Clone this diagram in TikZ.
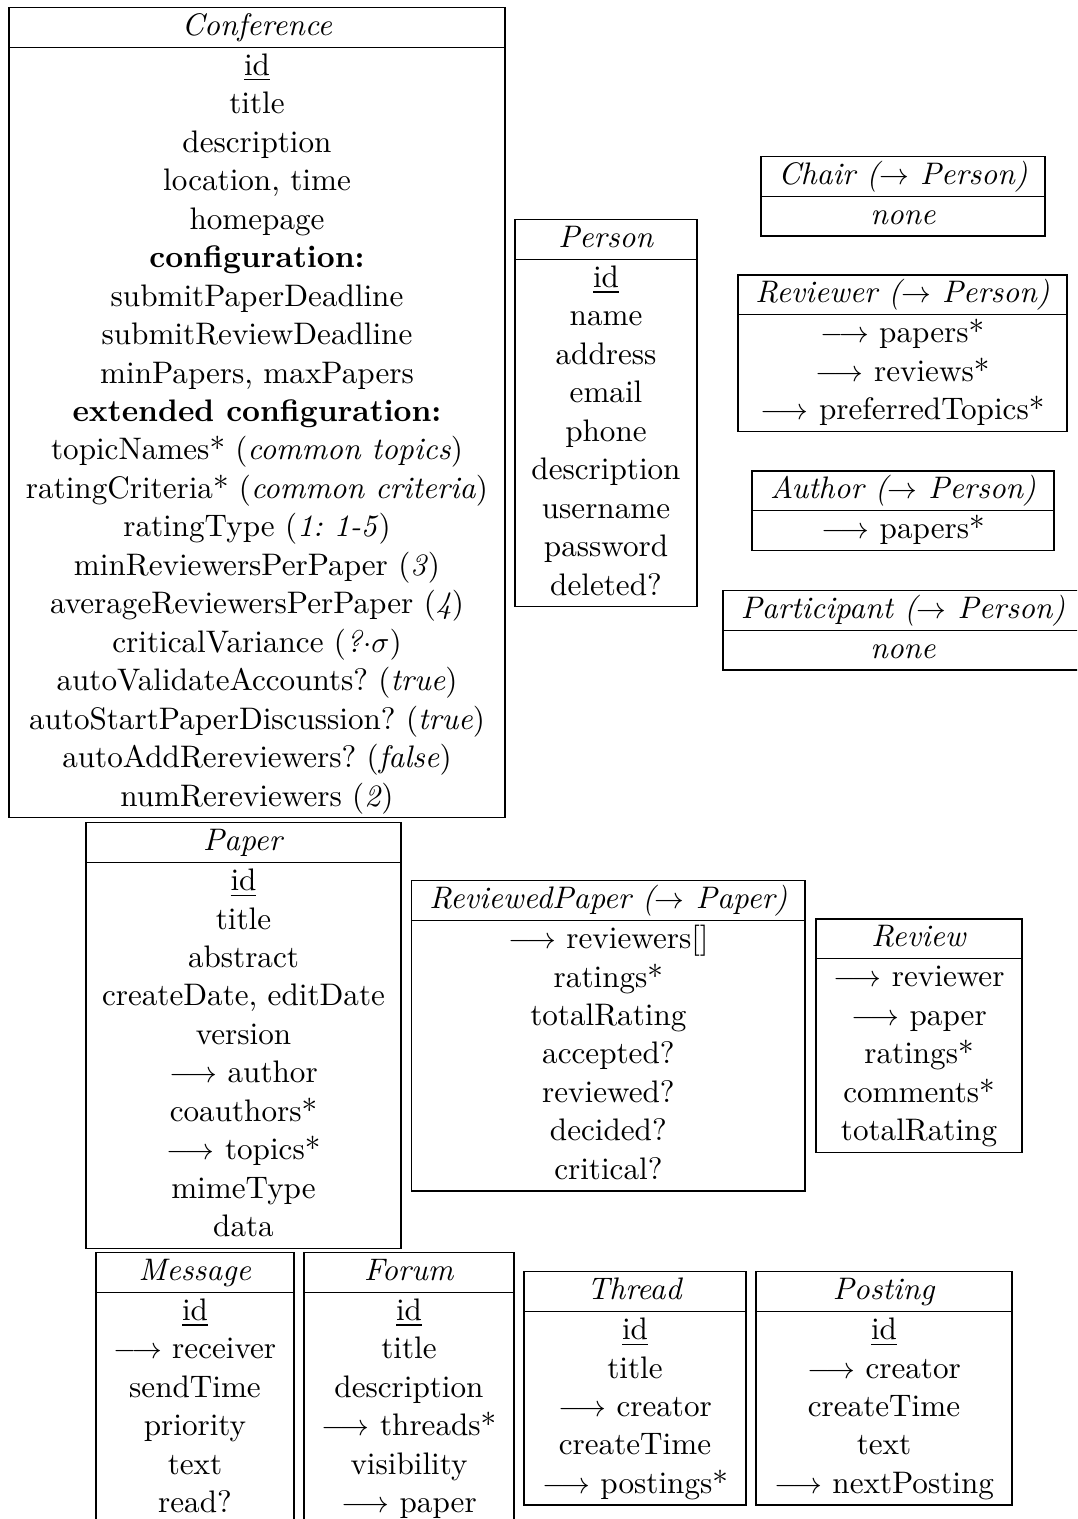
\documentclass[tikz,border=0pt]{standalone}
\usepackage{amsmath}
\frenchspacing
\tikzset{
  tabline/.style={draw=black, line width=0.45pt},
  txt/.style={anchor=base, inner sep=0pt, outer sep=0pt, font=\fontsize{10.45}{12.5}\selectfont\frenchspacing},
}
% #1 name, #2 x1, #3 x2, #4 ytop, #5 header, #6 number of rows, #7 rows
\newcommand\umltab[7]{%
  \pgfmathsetmacro\tabX{(#2+#3)/2}%
  \pgfmathsetmacro\tabY{#4+39.7}%
  \pgfmathsetmacro\tabB{#4+39.7+#6*38.46+1.2}%
  \draw[tabline] (#2,#4) rectangle (#3,\tabB);
  \draw[tabline] (#2,\tabY) -- (#3,\tabY);
  \node[txt] (#1) at (\tabX,{#4+27.9}) {\textit{#5}};
  \foreach \rw [count=\i] in {#7} {
    \node[txt] (#1-\i) at (\tabX,{\tabY+28.2+(\i-1)*38.46}) {\rw};
  }
}
\begin{document}
\begin{tikzpicture}[x=0.3356pt, y=-0.3356pt]
\useasboundingbox (0,0) rectangle (1077,1519);
\clip (0,0) rectangle (1077,1519);

\umltab{conf}{9}{505}{7.5}{Conference}{20}{%
  \underline{id}, title, description, {location, time}, homepage,
  \textbf{configuration:}, submitPaperDeadline, submitReviewDeadline,
  {minPapers, maxPapers}, \textbf{extended configuration:},
  topicNames* (\textit{common topics}), ratingCriteria* (\textit{common criteria}),
  ratingType (\textit{1: 1-5}), minReviewersPerPaper (\textit{3}),
  averageReviewersPerPaper (\textit{4}), criticalVariance (\textit{?}$\cdot\sigma$),
  autoValidateAccounts? (\textit{true}), autoStartPaperDiscussion? (\textit{true}),
  autoAddRereviewers? (\textit{false}), numRereviewers (\textit{2})}

\umltab{person}{515}{697}{219.5}{Person}{9}{%
  \underline{id}, name, address, email, phone, description, username, password, deleted?}

\umltab{chair}{761}{1045}{156.7}{Chair ($\rightarrow$ Person)}{1}{\textit{none}}

\umltab{reviewer}{738}{1067}{275}{Reviewer ($\rightarrow$ Person)}{3}{%
  $\longrightarrow$ papers*, $\longrightarrow$ reviews*, $\longrightarrow$ preferredTopics*}

\umltab{author}{752}{1054}{471}{Author ($\rightarrow$ Person)}{1}{$\longrightarrow$ papers*}

\umltab{participant}{723}{1083}{590.5}{Participant ($\rightarrow$ Person)}{1}{\textit{none}}

\umltab{paper}{86}{401}{822.7}{Paper}{10}{%
  \underline{id}, title, abstract, {createDate, editDate}, version,
  $\longrightarrow$ author, coauthors*, $\longrightarrow$ topics*, mimeType, data}

\umltab{revpaper}{411.7}{805}{880.7}{ReviewedPaper ($\rightarrow$ Paper)}{7}{%
  $\longrightarrow$ reviewers[], ratings*, totalRating, accepted?, reviewed?, decided?, critical?}

\umltab{review}{816}{1022}{919}{Review}{5}{%
  $\longrightarrow$ reviewer, $\longrightarrow$ paper, ratings*, comments*, totalRating}

\umltab{message}{96}{294}{1252.5}{Message}{6}{%
  \underline{id}, $\longrightarrow$ receiver, sendTime, priority, text, read?}

\umltab{forum}{304}{514}{1252.5}{Forum}{6}{%
  \underline{id}, title, description, $\longrightarrow$ threads*, visibility, $\longrightarrow$ paper}

\umltab{thread}{524}{746}{1271.7}{Thread}{5}{%
  \underline{id}, title, $\longrightarrow$ creator, createTime, $\longrightarrow$ postings*}

\umltab{posting}{756}{1012}{1271.7}{Posting}{5}{%
  \underline{id}, $\longrightarrow$ creator, createTime, text, $\longrightarrow$ nextPosting}
\end{tikzpicture}
\end{document}
